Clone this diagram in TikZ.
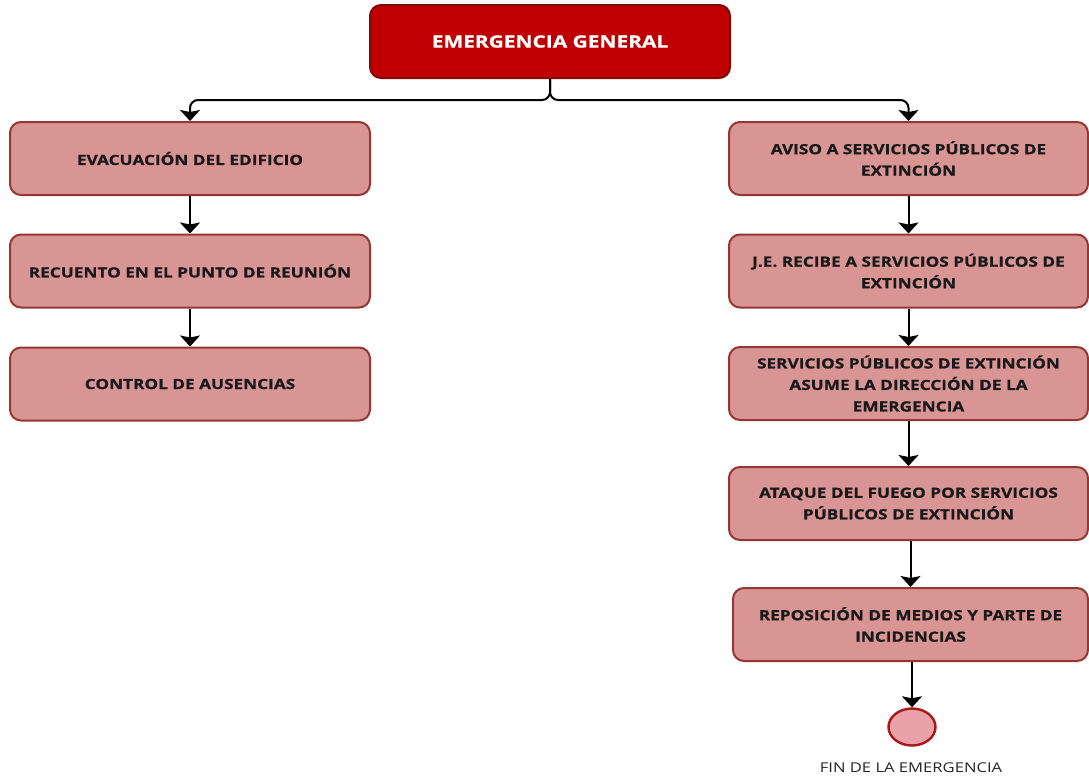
\documentclass[tikz,border=0pt]{standalone}
\usepackage{fontspec}
\setmainfont{Open Sans}[FakeStretch=1.23, BoldFeatures={FakeBold=0.8}]
\usetikzlibrary{arrows.meta,shapes.geometric}
\definecolor{boxfill}{HTML}{D99594}
\definecolor{boxline}{HTML}{943634}
\definecolor{topfill}{HTML}{C00000}
\definecolor{topline}{HTML}{7F0A0A}
\definecolor{endfill}{HTML}{E8A2A8}
\definecolor{endline}{HTML}{A81818}
\tikzset{
  stepbox/.style={draw=boxline, line width=2pt, fill=boxfill, rounded corners=11pt,
    minimum width=359pt, minimum height=73pt, align=center, inner sep=0pt,
    font=\fontsize{14}{21.5}\selectfont\bfseries, text=black!90},
  topbox/.style={draw=topline, line width=2pt, fill=topfill, rounded corners=11pt,
    minimum width=360pt, minimum height=73pt, align=center, inner sep=0pt,
    font=\fontsize{17}{20}\selectfont\bfseries, text=white},
  endnode/.style={ellipse, draw=endline, line width=2.4pt, fill=endfill,
    minimum width=47pt, minimum height=37pt, inner sep=0pt},
  arr/.style={draw=black, line width=2pt, -{Stealth[width=20pt,length=11pt,inset=2pt]}},
}
\begin{document}
\begin{tikzpicture}[x=1pt,y=-1pt]
\useasboundingbox[fill=white] (0,0) rectangle (1089,777);
\node[topbox] (top) at (550,41.5) {EMERGENCIA GENERAL};
% left column
\node[stepbox, minimum width=360pt] (l1) at (190,158.5) {EVACUACIÓN DEL EDIFICIO};
\node[stepbox, minimum width=360pt] (l2) at (190,271) {RECUENTO EN EL PUNTO DE REUNIÓN};
\node[stepbox, minimum width=360pt] (l3) at (190,384) {CONTROL DE AUSENCIAS};
% right column
\node[stepbox] (r1) at (908.5,158.5) {AVISO A SERVICIOS PÚBLICOS DE\\EXTINCIÓN};
\node[stepbox] (r2) at (908.5,271) {J.E. RECIBE A SERVICIOS PÚBLICOS DE\\EXTINCIÓN};
\node[stepbox] (r3) at (908.5,383.5) {SERVICIOS PÚBLICOS DE EXTINCIÓN\\ASUME LA DIRECCIÓN DE LA\\EMERGENCIA};
\node[stepbox] (r4) at (908.5,503.5) {ATAQUE DEL FUEGO POR SERVICIOS\\PÚBLICOS DE EXTINCIÓN};
\node[stepbox, minimum width=355pt] (r5) at (910.5,624.5) {REPOSICIÓN DE MEDIOS Y PARTE DE\\INCIDENCIAS};
\node[endnode] (fin) at (912,727) {};
\node[font=\fontsize{13.5}{16}\selectfont, text=black!85] (finlabel) at (911,768) {FIN DE LA EMERGENCIA};
% connectors
\draw[arr, rounded corners=8pt] (top.south) -- ++(0,21) -| (l1.north);
\draw[arr, rounded corners=8pt] (top.south) -- ++(0,21) -| (r1.north);
\draw[arr] (l1) -- (l2);
\draw[arr] (l2) -- (l3);
\draw[arr] (r1) -- (r2);
\draw[arr] (r2) -- (r3);
\draw[arr] (r3) -- (r4);
\draw[arr] (r4.south -| r5.north) -- (r5.north);
\draw[arr] (r5.south -| fin.north) -- (fin.north);
\end{tikzpicture}
\end{document}
